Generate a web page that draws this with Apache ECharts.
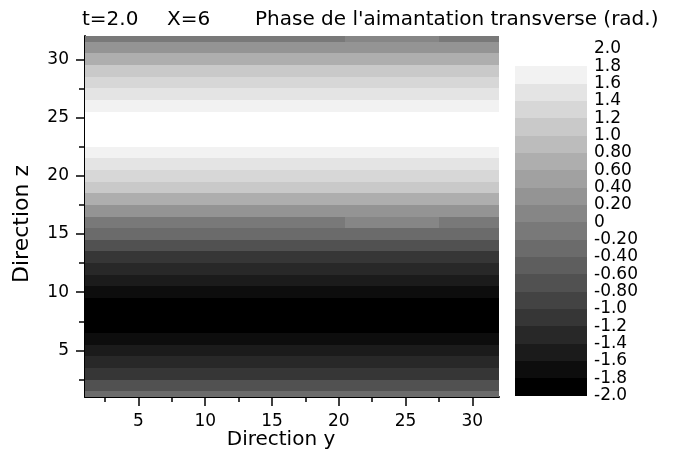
<!DOCTYPE html>
<html><head><meta charset="utf-8">
<script src="https://cdn.jsdelivr.net/npm/echarts@6/dist/echarts.min.js"></script>
<style>html,body{margin:0;padding:0;background:#fff}#c{width:676px;height:465px}</style>
</head><body><div id="c"></div>
<script>
// ---- data ----
const yCols = [1,2,3,4,5,6,7,8,9,10,11,12,13,14,15,16,17,18,19,20,21,22,23,24,25,26,27,28,29,30,31,32];
const zRows = [1,2,3,4,5,6,7,8,9,10,11,12,13,14,15,16,17,18,19,20,21,22,23,24,25,26,27,28,29,30,31,32];
// phase (rad.) of each z row, uniform along y
const rowPhase = [-0.31,-0.71,-1.08,-1.33,-1.55,-1.72,-1.86,-1.93,-1.88,-1.76,-1.58,-1.37,-1.12,-0.76,-0.36,-0.05,
                  0.27,0.66,1.04,1.33,1.55,1.72,1.86,1.93,1.87,1.74,1.57,1.36,1.11,0.74,0.33,-0.06];
// local deviations
const bumpCols = [21,22,23,24,25,26,27];
const bumpRows = [16,32];
const bumpPhase = [0.04,0.03];
// ticks
const yMajorTicks = [5,10,15,20,25,30];
const yMinorTicks = [2.5,7.5,12.5,17.5,22.5,27.5];
const zMajorTicks = [5,10,15,20,25,30];
const zMinorTicks = [2.5,7.5,12.5,17.5,22.5,27.5];
// colour scale
const barEdges = [-2.0,-1.8,-1.6,-1.4,-1.2,-1.0,-0.8,-0.6,-0.4,-0.2,0,0.2,0.4,0.6,0.8,1.0,1.2,1.4,1.6,1.8];
const barTicks = [-2.0,-1.8,-1.6,-1.4,-1.2,-1.0,-0.8,-0.6,-0.4,-0.2,0,0.2,0.4,0.6,0.8,1.0,1.2,1.4,1.6,1.8,2.0];
const barTickLabels = ['-2.0','-1.8','-1.6','-1.4','-1.2','-1.0','-0.80','-0.60','-0.40','-0.20','0','0.20','0.40','0.60','0.80','1.0','1.2','1.4','1.6','1.8','2.0'];
const grayLevels = ['#000000','#0d0d0d','#1b1b1b','#282828','#363636','#434343','#515151','#5e5e5e','#6b6b6b','#797979',
                    '#868686','#949494','#a1a1a1','#aeaeae','#bcbcbc','#c9c9c9','#d7d7d7','#e4e4e4','#f2f2f2','#ffffff'];

// ---- build ----
const cells = [];
zRows.forEach((z, zi) => {
  yCols.forEach(y => {
    let v = rowPhase[zi];
    const bi = bumpRows.indexOf(z);
    if (bi >= 0 && bumpCols.indexOf(y) >= 0) v = bumpPhase[bi];
    cells.push([y, z, v]);
  });
});
function colorOf(v) {
  let k = Math.floor((v - barTicks[0]) / 0.2 + 1e-6);
  k = Math.max(0, Math.min(grayLevels.length - 1, k));
  return grayLevels[k];
}
const FONT = 'DejaVu Sans';
const axisLineStyle = {color:'#000', width:2};

const chart = echarts.init(document.getElementById('c'), null, {renderer:'canvas'});
chart.setOption({
  animation: false,
  backgroundColor: '#fff',
  title: [
    {text:'t=2.0', left:82, top:10, padding:0, textStyle:{fontFamily:FONT, fontSize:20, fontWeight:'normal', color:'#000'}},
    {text:'X=6', left:167, top:10, padding:0, textStyle:{fontFamily:FONT, fontSize:20, fontWeight:'normal', color:'#000'}},
    {text:"Phase de l'aimantation transverse (rad.)", left:255, top:10, padding:0, textStyle:{fontFamily:FONT, fontSize:20, fontWeight:'normal', color:'#000'}}
  ],
  grid: [
    {left:85, top:36, width:414, height:361, containLabel:false},
    {left:515, top:49, width:72, height:346.7, containLabel:false}
  ],
  xAxis: [
    {gridIndex:0, type:'value', min:1, max:32, position:'bottom',
     axisLine:{show:true, onZero:false, lineStyle:axisLineStyle},
     axisTick:{show:true, inside:false, length:9, customValues:yMajorTicks, lineStyle:{color:'#000', width:1.5}},
     axisLabel:{show:true, customValues:yMajorTicks, margin:16, fontFamily:FONT, fontSize:17, color:'#000'},
     splitLine:{show:false}},
    {gridIndex:0, type:'value', min:1, max:32, position:'bottom',
     axisLine:{show:false, onZero:false},
     axisTick:{show:true, inside:false, length:5, customValues:yMinorTicks, lineStyle:{color:'#000', width:1.5}},
     axisLabel:{show:false}, splitLine:{show:false}},
    {gridIndex:1, type:'value', min:0, max:1, show:false}
  ],
  yAxis: [
    {gridIndex:0, type:'value', min:1, max:32, position:'left',
     axisLine:{show:true, onZero:false, lineStyle:axisLineStyle},
     axisTick:{show:true, inside:false, length:9, customValues:zMajorTicks, lineStyle:{color:'#000', width:1.5}},
     axisLabel:{show:true, customValues:zMajorTicks, margin:16, fontFamily:FONT, fontSize:17, color:'#000'},
     splitLine:{show:false}},
    {gridIndex:0, type:'value', min:1, max:32, position:'left',
     axisLine:{show:false, onZero:false},
     axisTick:{show:true, inside:false, length:6, customValues:zMinorTicks, lineStyle:{color:'#000', width:1.5}},
     axisLabel:{show:false}, splitLine:{show:false}},
    {gridIndex:1, type:'value', min:-2, max:2, position:'right',
     axisLine:{show:false}, axisTick:{show:false}, splitLine:{show:false},
     axisLabel:{show:true, customValues:barTicks, margin:7, fontFamily:FONT, fontSize:17, color:'#000',
       formatter: function (val) {
         let best = 0, bd = Infinity;
         barTicks.forEach((t, i) => { const d = Math.abs(t - val); if (d < bd) { bd = d; best = i; } });
         return barTickLabels[best];
       }}}
  ],
  graphic: [
    {type:'text', x:281, y:440, style:{text:'Direction y', font:'20px "DejaVu Sans"', fill:'#000', align:'center', verticalAlign:'middle'}},
    {type:'text', x:22, y:224, rotation:Math.PI/2, style:{text:'Direction z', font:'22px "DejaVu Sans"', fill:'#000', align:'center', verticalAlign:'middle'}}
  ],
  series: [
    {type:'custom', xAxisIndex:0, yAxisIndex:0, data:cells, encode:{x:0, y:1}, silent:true,
     renderItem: function (params, api) {
       const y = api.value(0), z = api.value(1), v = api.value(2);
       const p0 = api.coord([y - 0.5, z + 0.5]);
       const p1 = api.coord([y + 0.5, z - 0.5]);
       const cs = params.coordSys;
       const x0 = Math.round(Math.max(p0[0], cs.x)), x1 = Math.round(Math.min(p1[0], cs.x + cs.width));
       const y0 = Math.round(Math.max(p0[1], cs.y)), y1 = Math.round(Math.min(p1[1], cs.y + cs.height));
       if (x1 <= x0 || y1 <= y0) return null;
       return {type:'rect', shape:{x:x0, y:y0, width:x1 - x0, height:y1 - y0}, style:{fill:colorOf(v)}};
     }},
    {type:'custom', xAxisIndex:2, yAxisIndex:2, data:barEdges.map(e => [0, e]), encode:{x:0, y:1}, silent:true,
     renderItem: function (params, api) {
       const e = api.value(1);
       const p0 = api.coord([0, e + 0.2]);
       const p1 = api.coord([1, e]);
       const x0 = Math.round(p0[0]), x1 = Math.round(p1[0]);
       const y0 = Math.round(p0[1]), y1 = Math.round(p1[1]);
       return {type:'rect', shape:{x:x0, y:y0, width:x1 - x0, height:y1 - y0}, style:{fill:colorOf(e + 0.1)}};
     }}
  ]
});
</script>
</body></html>
